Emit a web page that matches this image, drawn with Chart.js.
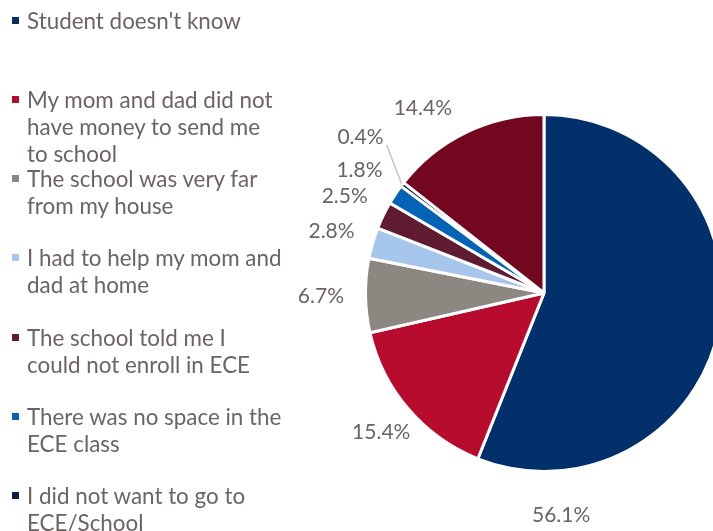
<!DOCTYPE html>
<html>
<head>
<meta charset="utf-8">
<script src="https://cdn.jsdelivr.net/npm/chart.js@4/dist/chart.umd.min.js"></script>
<style>
    html, body { margin: 0; padding: 0; width: 713px; height: 531px; overflow: hidden; background: #fff; }
    #marco { position: absolute; left: 0; top: 0; width: 740px; height: 531px; }
    #leyenda { position: absolute; left: 0; top: 0; font-family: Lato, sans-serif; font-size: 22.4px; color: #6b6462; }
    .item { position: absolute; left: 27px; line-height: 27px; white-space: nowrap; }
    .item i { position: absolute; left: -15px; top: 10px; width: 7px; height: 7px; }
</style>
</head>
<body>
<div id="marco"><canvas id="grafico"></canvas></div>
<div id="leyenda"></div>
<script>
// Razones (cada etiqueta ya partida en sus líneas)
const categorias = [
    ["Student doesn't know"],
    ['My mom and dad did not', 'have money to send me', 'to school'],
    ['The school was very far', 'from my house'],
    ['I had to help my mom and', 'dad at home'],
    ['The school told me I', 'could not enroll in ECE'],
    ['There was no space in the', 'ECE class'],
    ['I did not want to go to', 'ECE/School'],
    ['Other reason']
];
const porcentajes = [56.1, 15.4, 6.7, 2.8, 2.5, 1.8, 0.4, 14.4];
const colores = ['#01306b', '#b80c2f', '#8c8781', '#a7c6ec', '#5f1b30', '#0563b5', '#0b1f45', '#72071f'];

// Colocación de las etiquetas de porcentaje: ángulo en grados desde arriba
// (null = centro del sector) y distancia en radios
const anguloEtiqueta = [175.6, null, null, null, null, null, 310.4, 326.8];
const distanciaEtiqueta = [1.25, 1.2, 1.25, 1.24, 1.24, 1.24, 1.35, 1.24];
const lineaGuia = [false, false, false, false, false, false, true, false];

const colorTexto = '#6b6462';
const pasoLeyenda = 79.3;

/**
 * Dibuja los porcentajes fuera de cada sector, con línea guía donde haga falta.
 */
const etiquetasPorcentaje = {
    id: 'etiquetasPorcentaje',
    afterDatasetsDraw(chart) {
        const ctx = chart.ctx;
        const arcos = chart.getDatasetMeta(0).data;

        ctx.save();
        ctx.font = '21px Lato, sans-serif';
        ctx.fillStyle = colorTexto;
        ctx.textAlign = 'center';
        ctx.textBaseline = 'middle';

        arcos.forEach((arco, i) => {
            const { x, y, startAngle, endAngle, outerRadius } =
                arco.getProps(['x', 'y', 'startAngle', 'endAngle', 'outerRadius'], true);
            const medio = (startAngle + endAngle) / 2;
            const angulo = anguloEtiqueta[i] === null ? medio : (anguloEtiqueta[i] - 90) * Math.PI / 180;
            const d = outerRadius * distanciaEtiqueta[i];
            const lx = x + Math.cos(angulo) * d;
            const ly = y + Math.sin(angulo) * d;
            const texto = porcentajes[i].toFixed(1) + '%';

            if (lineaGuia[i]) {
                const ancho = ctx.measureText(texto).width;
                const ax = x + Math.cos(medio) * (outerRadius + 1);
                const ay = y + Math.sin(medio) * (outerRadius + 1);
                const ex = lx + (ax > lx ? 1 : -1) * (ancho / 2 + 3);
                const ey = ly + (ay > ly ? 1 : -1) * 8;
                ctx.strokeStyle = '#c4c4c4';
                ctx.lineWidth = 1.5;
                ctx.beginPath();
                ctx.moveTo(ex, ey);
                ctx.lineTo(ax, ay);
                ctx.stroke();
            }

            ctx.fillText(texto, lx, ly);
        });

        ctx.restore();
    }
};

new Chart(document.getElementById('grafico'), {
    type: 'pie',
    data: {
        labels: categorias,
        datasets: [{
            data: porcentajes,
            backgroundColor: colores,
            borderColor: '#ffffff',
            borderWidth: 3
        }]
    },
    options: {
        responsive: true,
        maintainAspectRatio: false,
        animation: false,
        layout: {
            padding: { left: 364, top: 113, right: 16, bottom: 58 }
        },
        plugins: {
            legend: { display: false },
            tooltip: { enabled: false }
        }
    },
    plugins: [etiquetasPorcentaje]
});

// Leyenda a la izquierda, una casilla fija por razón
const leyenda = document.getElementById('leyenda');
categorias.forEach((lineas, i) => {
    const item = document.createElement('div');
    item.className = 'item';
    item.style.top = (6.5 + i * pasoLeyenda) + 'px';
    item.innerHTML = '<i style="background:' + colores[i] + '"></i>' + lineas.join('<br>');
    leyenda.appendChild(item);
});
</script>
</body>
</html>
